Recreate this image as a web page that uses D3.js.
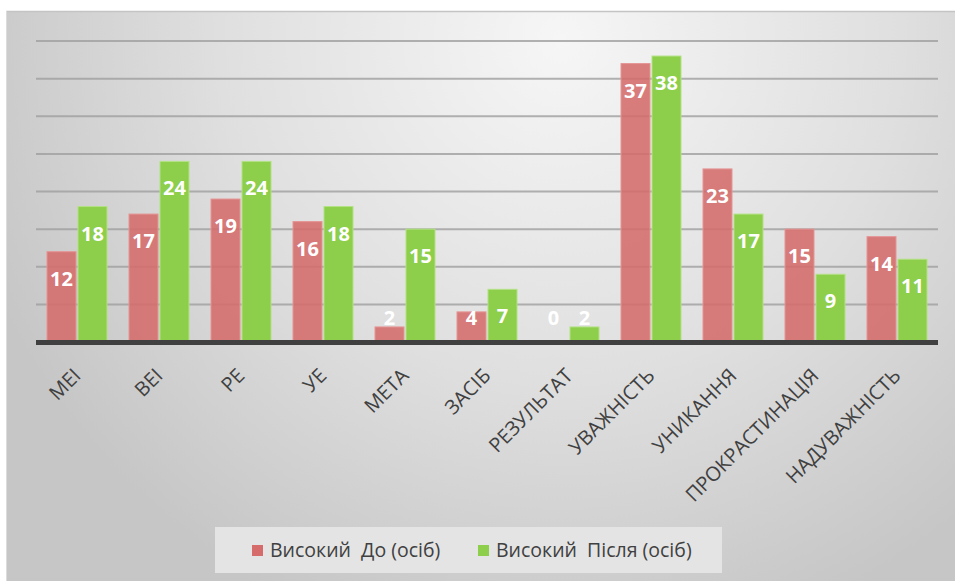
<!DOCTYPE html>
<html>
<head>
<meta charset="utf-8">
<script src="https://cdn.jsdelivr.net/npm/d3@7"></script>
<style>
  html, body { margin: 0; padding: 0; background: #ffffff; }
  svg { display: block; font-family: "Open Sans", "DejaVu Sans", sans-serif; }
</style>
</head>
<body>
<svg id="chart" width="955" height="581"></svg>
<script>
// Категорії шкал та кількість осіб з високим рівнем до і після
const categories = ["МЕІ", "ВЕІ", "РЕ", "УЕ", "МЕТА", "ЗАСІБ", "РЕЗУЛЬТАТ", "УВАЖНІСТЬ", "УНИКАННЯ", "ПРОКРАСТИНАЦІЯ", "НАДУВАЖНІСТЬ"];
const seriesNames = ["Високий  До (осіб)", "Високий  Після (осіб)"];
const before = [12, 17, 19, 16, 2, 4, 0, 37, 23, 15, 14];
const after = [18, 24, 24, 18, 15, 7, 2, 38, 17, 9, 11];
const gridTicks = [5, 10, 15, 20, 25, 30, 35, 40];

const colors = ["#d56b6b", "#8dce4a"];
const edgeColors = ["#e59494", "#b3e185"];

const svg = d3.select("#chart");
const W = 955, H = 581;

// Background panel with a soft grey radial gradient
const defs = svg.append("defs");
const bg = defs.append("radialGradient")
  .attr("id", "bgGrad")
  .attr("gradientUnits", "userSpaceOnUse")
  .attr("cx", 560).attr("cy", 40).attr("r", 620);
bg.append("stop").attr("offset", "0%").attr("stop-color", "#f6f6f6");
bg.append("stop").attr("offset", "55%").attr("stop-color", "#dfdfdf");
bg.append("stop").attr("offset", "100%").attr("stop-color", "#c6c6c6");

svg.append("rect")
  .attr("x", 6).attr("y", 11)
  .attr("width", W - 6).attr("height", H - 11)
  .attr("fill", "url(#bgGrad)");
svg.append("line")
  .attr("x1", 6).attr("x2", W).attr("y1", 11.5).attr("y2", 11.5)
  .attr("stroke", "#c4c4c4").attr("stroke-width", 1.5);
svg.append("line")
  .attr("x1", 6.5).attr("x2", 6.5).attr("y1", 11).attr("y2", H)
  .attr("stroke", "#dcdcdc").attr("stroke-width", 1);

// Scales
const plotLeft = 36, plotRight = 938;
const x0 = d3.scaleBand().domain(categories).range([plotLeft, plotRight]).padding(0);
const x1 = d3.scaleBand().domain([0, 1]).range([0, x0.bandwidth()])
  .paddingInner(0.065).paddingOuter(0.355);
const y = d3.scaleLinear().domain([0, 40]).range([342, 41]);

// Horizontal gridlines
svg.append("g")
  .selectAll("line")
  .data(gridTicks)
  .join("line")
  .attr("x1", plotLeft).attr("x2", plotRight)
  .attr("y1", d => y(d)).attr("y2", d => y(d))
  .attr("stroke", "#9f9f9f").attr("stroke-width", 2).attr("stroke-opacity", 0.8);

const rows = categories.map((c, i) => ({ cat: c, vals: [before[i], after[i]] }));

// Bars
const groups = svg.append("g")
  .selectAll("g")
  .data(rows)
  .join("g")
  .attr("transform", d => `translate(${x0(d.cat)},0)`);

groups.selectAll("rect")
  .data(d => d.vals.map((v, s) => ({ v, s })))
  .join("rect")
  .attr("x", d => x1(d.s))
  .attr("width", x1.bandwidth())
  .attr("y", d => y(d.v))
  .attr("height", d => y(0) - y(d.v))
  .attr("fill", d => colors[d.s])
  .attr("fill-opacity", d => d.s === 0 ? 0.88 : 1)
  .attr("stroke", d => edgeColors[d.s])
  .attr("stroke-width", d => d.v > 0 ? 1 : 0);

// Value labels, inside the bar end, kept above the axis
groups.selectAll("text")
  .data(d => d.vals.map((v, s) => ({ v, s })))
  .join("text")
  .attr("x", d => x1(d.s) + x1.bandwidth() / 2)
  .attr("y", d => Math.min(y(d.v) + 34, 325))
  .attr("text-anchor", "middle")
  .attr("fill", "#ffffff")
  .attr("font-weight", "bold")
  .attr("font-size", 20)
  .text(d => d.v);

// Category axis line
svg.append("line")
  .attr("x1", plotLeft).attr("x2", plotRight)
  .attr("y1", y(0) + 0.5).attr("y2", y(0) + 0.5)
  .attr("stroke", "#404040").attr("stroke-width", 5);

// Rotated category labels
svg.append("g")
  .selectAll("text")
  .data(categories)
  .join("text")
  .attr("transform", d => `translate(${x0(d) + x0.bandwidth() / 2},372) rotate(-45)`)
  .attr("text-anchor", "end")
  .attr("dy", "0.35em")
  .attr("fill", "#404040")
  .attr("font-size", 20)
  .text(d => d);

// Legend
const legend = svg.append("g");
legend.append("rect")
  .attr("x", 215).attr("y", 527).attr("width", 507).attr("height", 46)
  .attr("fill", "#e4e4e4");
const legendItems = [
  { name: seriesNames[0], sx: 252, tx: 270 },
  { name: seriesNames[1], sx: 478, tx: 496 }
];
legendItems.forEach((it, i) => {
  legend.append("rect")
    .attr("x", it.sx).attr("y", 545).attr("width", 11).attr("height", 11)
    .attr("fill", colors[i]);
  legend.append("text")
    .attr("x", it.tx).attr("y", 557)
    .attr("fill", "#404040")
    .attr("font-size", 19.5)
    .style("white-space", "pre")
    .text(it.name);
});
</script>
</body>
</html>
